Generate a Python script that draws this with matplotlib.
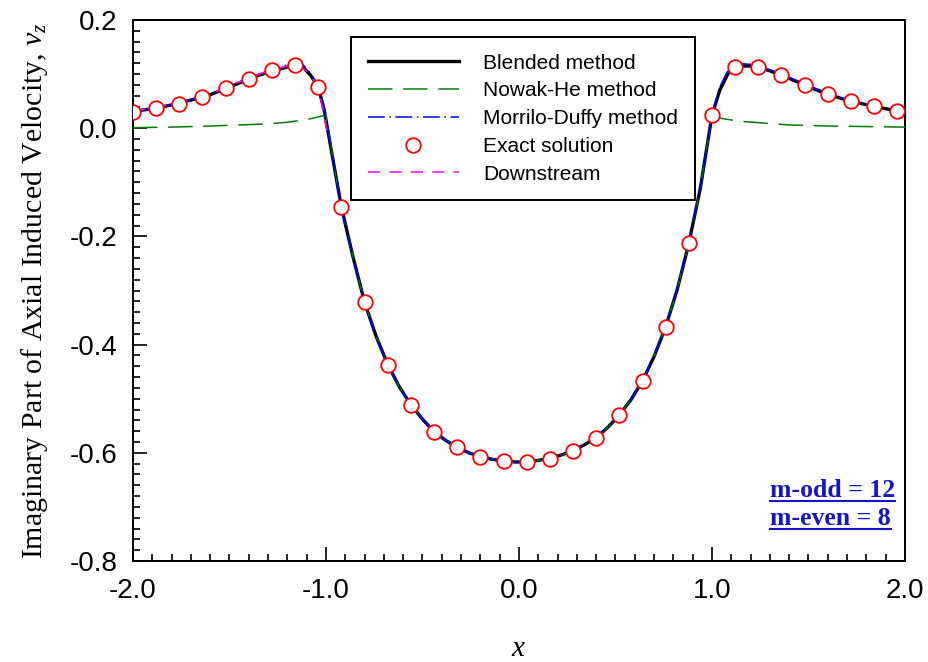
import matplotlib
matplotlib.use("Agg")
import matplotlib.pyplot as plt
from matplotlib.lines import Line2D
from matplotlib.ticker import MultipleLocator

# ---- data ----
# Blended method (also the shared x-grid for Morrilo-Duffy)
x_blend = [-2.00, -1.90, -1.80, -1.70, -1.60, -1.50, -1.40, -1.30, -1.20, -1.16,
           -1.12, -1.08, -1.04, -1.01, -0.96, -0.92, -0.86, -0.80, -0.74, -0.68,
           -0.62, -0.56, -0.50, -0.44, -0.38, -0.32, -0.26, -0.20, -0.14, -0.08,
           -0.02, 0.04, 0.10, 0.16, 0.22, 0.28, 0.34, 0.40, 0.46, 0.52,
           0.58, 0.64, 0.70, 0.76, 0.82, 0.88, 0.94, 1.00, 1.04, 1.09,
           1.12, 1.16, 1.20, 1.24, 1.30, 1.36, 1.42, 1.48, 1.54, 1.60,
           1.66, 1.72, 1.78, 1.84, 1.90, 1.96, 2.00]
y_blend = [0.031, 0.036, 0.043, 0.052, 0.062, 0.076, 0.091, 0.104, 0.113, 0.116,
           0.113, 0.098, 0.076, 0.035, -0.066, -0.146, -0.238, -0.322, -0.385, -0.437,
           -0.478, -0.511, -0.538, -0.561, -0.577, -0.590, -0.600, -0.607, -0.612, -0.615,
           -0.617, -0.617, -0.614, -0.610, -0.604, -0.596, -0.585, -0.572, -0.553, -0.530,
           -0.502, -0.467, -0.422, -0.367, -0.298, -0.213, -0.110, 0.024, 0.070, 0.106,
           0.113, 0.115, 0.115, 0.113, 0.106, 0.098, 0.089, 0.080, 0.071, 0.063,
           0.056, 0.050, 0.045, 0.041, 0.036, 0.032, 0.030]
y_morrilo = [0.032, 0.037, 0.044, 0.053, 0.063, 0.077, 0.093, 0.107, 0.117, 0.120,
             0.118, 0.101, 0.078, 0.036, -0.066, -0.146, -0.238, -0.322, -0.385, -0.437,
             -0.478, -0.511, -0.538, -0.561, -0.577, -0.590, -0.600, -0.607, -0.612, -0.615,
             -0.617, -0.617, -0.614, -0.610, -0.604, -0.596, -0.585, -0.572, -0.553, -0.530,
             -0.502, -0.467, -0.422, -0.367, -0.298, -0.213, -0.110, 0.026, 0.076, 0.112,
             0.118, 0.119, 0.118, 0.115, 0.108, 0.100, 0.091, 0.082, 0.073, 0.065,
             0.057, 0.051, 0.046, 0.042, 0.037, 0.033, 0.031]

# Nowak-He method
x_nowak = [-2.00, -1.80, -1.60, -1.45, -1.30, -1.20, -1.10, -1.05, -1.00,
           -0.96, -0.92, -0.86, -0.80, -0.74, -0.68, -0.62, -0.56, -0.50, -0.44,
           -0.38, -0.32, -0.26, -0.20, -0.14, -0.08, -0.02, 0.04, 0.10, 0.16,
           0.22, 0.28, 0.34, 0.40, 0.46, 0.52, 0.58, 0.64, 0.70, 0.76,
           0.82, 0.88, 0.94, 1.00, 1.05, 1.14, 1.25, 1.40, 1.60, 1.80, 2.00]
y_nowak = [0.001, 0.002, 0.004, 0.006, 0.008, 0.011, 0.016, 0.020, 0.024,
           -0.066, -0.146, -0.238, -0.322, -0.385, -0.437, -0.478, -0.511, -0.538, -0.561,
           -0.577, -0.590, -0.600, -0.607, -0.612, -0.615, -0.617, -0.617, -0.614, -0.610,
           -0.604, -0.596, -0.585, -0.572, -0.553, -0.530, -0.502, -0.467, -0.422, -0.367,
           -0.298, -0.213, -0.110, 0.024, 0.018, 0.013, 0.010, 0.006, 0.004, 0.003, 0.002]

# Downstream
x_down = [-2.00, -1.90, -1.80, -1.70, -1.60, -1.50, -1.40, -1.30, -1.20, -1.15,
          -1.10, -1.04, -0.995]
y_down = [0.032, 0.037, 0.044, 0.053, 0.064, 0.078, 0.093, 0.106, 0.115, 0.117,
          0.106, 0.076, -0.004]

# Exact solution
x_exact = [-2.00, -1.88, -1.76, -1.64, -1.52, -1.40, -1.28, -1.16, -1.04, -0.92,
           -0.80, -0.68, -0.56, -0.44, -0.32, -0.20, -0.08, 0.04, 0.16, 0.28,
           0.40, 0.52, 0.64, 0.76, 0.88, 1.00, 1.12, 1.24, 1.36, 1.48,
           1.60, 1.72, 1.84, 1.96]
y_exact = [0.030, 0.037, 0.045, 0.057, 0.074, 0.091, 0.107, 0.117, 0.076, -0.146,
           -0.322, -0.437, -0.511, -0.561, -0.589, -0.607, -0.615, -0.617, -0.611, -0.596,
           -0.572, -0.530, -0.467, -0.367, -0.213, 0.024, 0.113, 0.113, 0.098, 0.080,
           0.063, 0.050, 0.041, 0.031]

x_ticks = [-2.0, -1.0, 0.0, 1.0, 2.0]
y_ticks = [-0.8, -0.6, -0.4, -0.2, 0.0, 0.2]

plt.rcParams["font.family"] = "Liberation Sans"
plt.rcParams["mathtext.fontset"] = "custom"
plt.rcParams["mathtext.rm"] = "Liberation Serif"
plt.rcParams["mathtext.it"] = "Liberation Serif:italic"

fig = plt.figure(figsize=(9.29, 6.62), dpi=100)
ax = fig.add_axes([133 / 929, 1 - 561 / 662, (905 - 133) / 929, (561 - 20) / 662])

ax.plot(x_blend, y_blend, color="black", lw=2.4, zorder=2, label="Blended method")
ax.plot(x_nowak, y_nowak, color="#008000", lw=1.1, ls=(0, (16, 7)), zorder=3,
        label="Nowak-He method")
ax.plot(x_blend, y_morrilo, color="#0000ff", lw=1.1, ls=(0, (11, 3, 1, 3)), zorder=3,
        label="Morrilo-Duffy method")
ax.plot(x_down, y_down, color="#ff00ff", lw=1.1, ls=(0, (8, 6)), zorder=4,
        label="Downstream")
ax.plot(x_exact, y_exact, ls="none", marker="o", ms=10.5, mfc="white", mec="red",
        mew=1.3, zorder=5, label="Exact solution")

ax.set_xlim(-2.0, 2.0)
ax.set_ylim(-0.8, 0.2)
ax.set_xticks(x_ticks)
ax.set_yticks(y_ticks)
ax.set_xticklabels([f"{v:.1f}" for v in x_ticks])
ax.set_yticklabels([f"{v:.1f}" for v in y_ticks])
ax.xaxis.set_minor_locator(MultipleLocator(0.1))
ax.yaxis.set_minor_locator(MultipleLocator(0.02))
ax.tick_params(which="both", direction="in", top=False, right=False, width=1.2)
ax.tick_params(which="major", length=10, labelsize=20)
ax.tick_params(which="minor", length=5)
ax.tick_params(axis="x", which="major", pad=12)
ax.tick_params(axis="y", which="major", pad=11)
for s in ax.spines.values():
    s.set_linewidth(1.4)

ax.set_xlabel("$x$", fontsize=21, labelpad=22)
ax.set_ylabel("Imaginary Part of Axial Induced Velocity, $v_z$", fontsize=21.5,
              family="Liberation Serif", labelpad=14)

h = {l.get_label(): l for l in ax.get_lines()}
order = ["Blended method", "Nowak-He method", "Morrilo-Duffy method",
         "Exact solution", "Downstream"]
leg = ax.legend([h[k] for k in order], order, loc="upper left",
                bbox_to_anchor=(351 / 929, 1 - 37 / 662), bbox_transform=fig.transFigure,
                borderaxespad=0, fontsize=15, handlelength=4.4, handletextpad=1.15,
                labelspacing=0.42, borderpad=0.8, fancybox=False, framealpha=1,
                edgecolor="black", numpoints=1)
leg.get_frame().set_linewidth(1.4)

# bottom-right annotation with underline
note_color = "#1414c8"
notes = [("m-odd = 12", 1 - 497 / 662), ("m-even = 8", 1 - 525 / 662)]
txts = []
for s, yb in notes:
    t = fig.text(770 / 929, yb, s, fontsize=18.5, family="Liberation Serif",
                 fontweight="bold", color=note_color, ha="left", va="baseline")
    txts.append((t, yb))
fig.canvas.draw()
inv = fig.transFigure.inverted()
for t, yb in txts:
    bb = t.get_window_extent().transformed(inv)
    yu = yb - 4 / 662
    fig.add_artist(Line2D([bb.x0, bb.x1], [yu, yu], color=note_color, lw=1.5,
                          transform=fig.transFigure))

fig.savefig("out.png", dpi=100)
